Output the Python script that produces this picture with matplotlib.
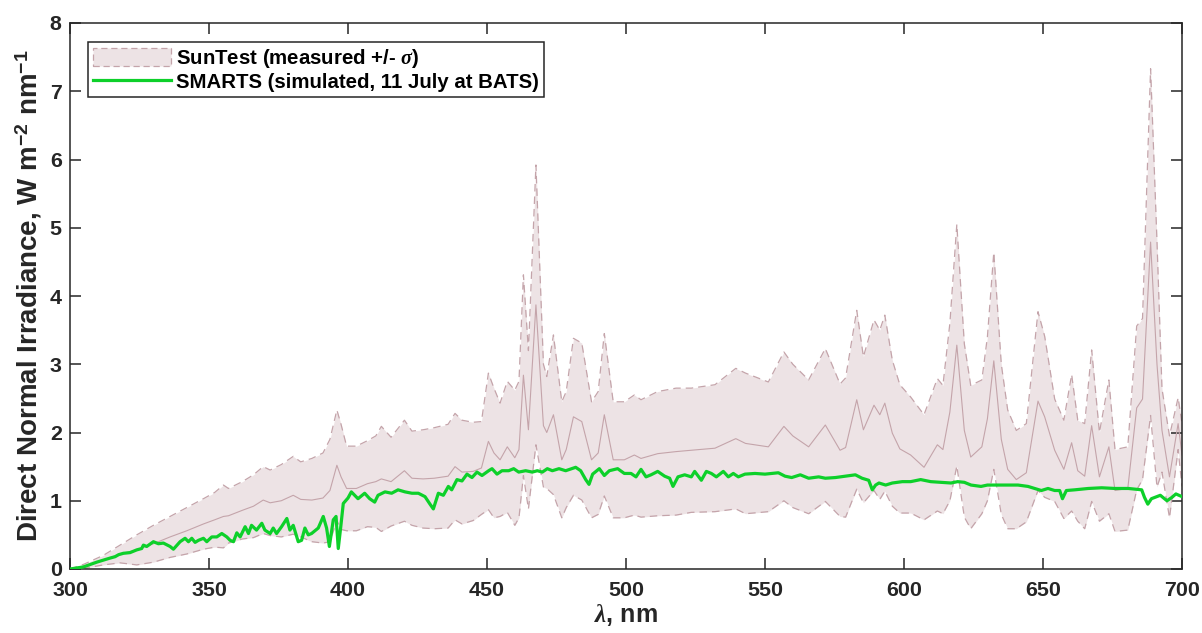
import matplotlib
matplotlib.use("Agg")
import matplotlib.pyplot as plt
from matplotlib.patches import Patch
from matplotlib.lines import Line2D
import numpy as np

# ---------------- data ----------------
wl_suntest = [300, 305, 312, 318, 324, 330, 336, 342, 348, 352, 355.2, 357, 362, 366, 369.5,
              372, 376, 380.3, 383, 387, 391, 393.5, 396, 397.5, 399.5, 403, 407, 410, 412,
              415.5, 420.3, 423, 427, 431, 436, 438.5, 441, 445, 448, 450.5, 452.5, 454.7,
              457.3, 460, 461.5, 463.1, 464.9, 467.6, 470.3, 471.5, 473.9, 476.9, 478.5,
              481.1, 484.1, 487.6, 490, 492.2, 495.4, 499.4, 503, 505.4, 511.4, 518, 523.5,
              532, 539.5, 543, 551.2, 556.8, 560, 565.7, 571.7, 577, 579, 583, 585.4, 589.2,
              591.3, 593.1, 595.8, 598.5, 602.4, 607.2, 612, 614, 616.5, 619, 621.7, 624,
              628, 630, 632.3, 635, 637.3, 640.4, 644, 648.2, 650.6, 654.2, 657.5, 660.3,
              662.5, 665, 667.5, 670.3, 673.7, 675.9, 680.5, 683.7, 685.8, 688.7, 691,
              692.8, 695.5, 698.6, 700]
suntest_mean = [0, 0.04, 0.13, 0.22, 0.28, 0.37, 0.47, 0.56, 0.66, 0.72, 0.77, 0.78, 0.86, 0.92, 1.01,
                0.97, 1.00, 1.08, 1.02, 1.01, 1.04, 1.15, 1.52, 1.35, 1.18, 1.18, 1.25, 1.28, 1.32,
                1.28, 1.44, 1.33, 1.32, 1.33, 1.36, 1.50, 1.42, 1.43, 1.48, 1.87, 1.70, 1.60,
                1.79, 1.63, 1.75, 2.84, 2.04, 3.87, 2.10, 2.00, 2.26, 1.60, 1.75,
                2.23, 2.16, 1.60, 1.70, 2.26, 1.60, 1.60, 1.67, 1.62, 1.69, 1.72, 1.74,
                1.77, 1.91, 1.84, 1.79, 2.09, 1.95, 1.79, 2.11, 1.74, 1.78, 2.48, 2.04, 2.40,
                2.26, 2.43, 1.99, 1.76, 1.67, 1.49, 1.82, 1.75, 2.30, 3.28, 2.03, 1.64,
                1.79, 2.20, 3.05, 1.90, 1.46, 1.31, 1.41, 2.46, 2.23, 1.74, 1.46, 1.85,
                1.44, 1.36, 2.10, 1.35, 1.79, 1.15, 1.18, 2.36, 2.49, 4.79, 3.00,
                2.03, 1.35, 2.13, 1.67]
suntest_sigma = [0, 0.03, 0.07, 0.13, 0.22, 0.27, 0.30, 0.34, 0.37, 0.40, 0.46, 0.40, 0.42, 0.46, 0.49,
                 0.48, 0.53, 0.57, 0.55, 0.61, 0.66, 0.75, 0.81, 0.77, 0.62, 0.62, 0.63, 0.67, 0.77,
                 0.65, 0.74, 0.69, 0.72, 0.74, 0.76, 0.78, 0.76, 0.72, 0.68, 1.00, 0.95, 0.83,
                 0.96, 0.99, 1.00, 1.47, 1.16, 2.05, 0.90, 0.82, 1.17, 0.85, 0.85,
                 1.15, 1.15, 0.85, 0.90, 1.19, 0.85, 0.85, 0.88, 0.86, 0.91, 0.93, 0.91,
                 0.93, 1.03, 1.03, 0.95, 1.09, 1.05, 0.98, 1.12, 0.97, 1.02, 1.31, 1.07, 1.25,
                 1.24, 1.29, 1.07, 0.94, 0.85, 0.77, 0.97, 0.94, 1.30, 1.77, 1.27, 1.05,
                 0.98, 1.20, 1.59, 1.10, 0.87, 0.72, 0.72, 1.31, 1.18, 0.75, 0.72, 1.00,
                 0.74, 0.77, 1.11, 0.65, 0.98, 0.60, 0.61, 1.20, 1.18, 2.54, 1.80,
                 0.61, 0.60, 0.38, 0.46]

wl_smarts = [300, 304.8, 309.6, 312, 314.4, 316.2, 317.5, 319.2, 321.6, 324, 325.8, 326.4, 327.6,
             330, 331.8, 333.6, 336, 337.2, 339.6, 341.4, 342.6, 343.8, 345, 346.2, 348, 349.2,
             351, 352.8, 354.6, 356.4, 357.6, 358.8, 360, 361.2, 363, 364.2, 365.3, 367.1, 369,
             370.1, 372, 373.1, 374.3, 376.1, 378, 379.1, 380.3, 382.1, 383.3, 384.5, 385.7,
             386.9, 389.3, 391.1, 392.3, 393.3, 394.7, 395.7, 396.5, 397.4, 398.3, 400, 401.2,
             403.6, 406, 407.8, 409.6, 410.8, 413.3, 415.7, 418, 420.5, 423, 425.3, 427.7,
             429.5, 430.7, 432.5, 434.3, 436.1, 437.3, 439.2, 441, 442.8, 444.6, 446.4, 448.2,
             450.6, 451.8, 453.6, 455.4, 457.8, 459.6, 461.4, 463.9, 466.3, 468.1, 469.9, 471.7,
             473.5, 475.9, 478.3, 481.9, 483.7, 485.5, 486.7, 488, 490.4, 492.2, 494, 497,
             499.4, 501.8, 503.6, 505.4, 507.2, 509, 511.4, 513.9, 515.7, 516.9, 518.7, 521.1,
             523.5, 524.7, 527.1, 528.9, 530.7, 532.5, 535, 536.8, 538.6, 540.4, 542.8, 546.4,
             550, 552.4, 554.8, 557.2, 559.6, 562.7, 565.7, 569.3, 571.7, 575.3, 578.9, 582.5,
             584.9, 587.3, 588.6, 589.8, 591, 593.4, 595.8, 599.4, 602.4, 606, 609.6, 613.3,
             616.9, 619.3, 621.7, 624.1, 627.7, 630, 633.7, 637.3, 641, 644.6, 647, 649.4,
             651.8, 654.2, 656, 657, 658.4, 661.4, 666.3, 671.1, 675.9, 680.7, 685.5, 686.5,
             687.7, 689, 692.2, 694.6, 696.4, 697.8, 700]
smarts_dni = [0, 0.03, 0.10, 0.13, 0.16, 0.18, 0.21, 0.23, 0.24, 0.28, 0.30, 0.35, 0.33,
              0.40, 0.37, 0.38, 0.33, 0.29, 0.40, 0.45, 0.40, 0.45, 0.39, 0.42, 0.45, 0.40,
              0.47, 0.47, 0.52, 0.47, 0.42, 0.40, 0.53, 0.47, 0.62, 0.52, 0.64, 0.57, 0.67,
              0.57, 0.52, 0.60, 0.52, 0.62, 0.74, 0.57, 0.64, 0.40, 0.42, 0.60, 0.50,
              0.52, 0.60, 0.77, 0.60, 0.33, 0.72, 0.77, 0.30, 0.62, 0.96, 1.04, 1.13,
              1.03, 1.11, 1.03, 0.98, 1.08, 1.13, 1.11, 1.16, 1.13, 1.11, 1.11, 1.06,
              0.95, 0.88, 1.11, 1.08, 1.21, 1.16, 1.31, 1.29, 1.39, 1.34, 1.42, 1.37,
              1.44, 1.47, 1.39, 1.44, 1.44, 1.47, 1.42, 1.44, 1.42, 1.44, 1.42, 1.47,
              1.44, 1.47, 1.44, 1.49, 1.44, 1.31, 1.24, 1.39, 1.47, 1.37, 1.44, 1.47,
              1.40, 1.40, 1.35, 1.46, 1.35, 1.38, 1.43, 1.36, 1.33, 1.21, 1.35, 1.38,
              1.35, 1.43, 1.30, 1.43, 1.40, 1.35, 1.43, 1.35, 1.40, 1.35, 1.39, 1.40,
              1.39, 1.40, 1.41, 1.36, 1.34, 1.38, 1.33, 1.35, 1.33, 1.34, 1.36, 1.38,
              1.33, 1.30, 1.16, 1.23, 1.26, 1.23, 1.26, 1.28, 1.28, 1.31, 1.28, 1.27,
              1.26, 1.28, 1.27, 1.23, 1.21, 1.23, 1.23, 1.23, 1.23, 1.21, 1.18, 1.15,
              1.18, 1.15, 1.15, 1.03, 1.15, 1.16, 1.18, 1.19, 1.18, 1.18, 1.16, 1.05,
              0.95, 1.03, 1.08, 1.00, 1.05, 1.10, 1.06]

x_ticks = [300, 350, 400, 450, 500, 550, 600, 650, 700]
y_ticks = [0, 1, 2, 3, 4, 5, 6, 7, 8]
label_suntest = r'SunTest (measured +/- $\sigma$)'
label_smarts = 'SMARTS (simulated, 11 July at BATS)'
x_label = r'$\lambda$, nm'
y_label = r'Direct Normal Irradiance, W m$^{\mathbf{-2}}$ nm$^{\mathbf{-1}}$'

# ---------------- style ----------------
plt.rcParams['font.family'] = ['Liberation Sans', 'DejaVu Sans']
plt.rcParams['font.weight'] = 'bold'
plt.rcParams['mathtext.fontset'] = 'custom'
plt.rcParams['mathtext.rm'] = 'Liberation Sans:bold'
plt.rcParams['mathtext.bf'] = 'Liberation Sans:bold'
plt.rcParams['mathtext.it'] = 'Liberation Serif:italic'

band_fill = '#EDE3E5'
band_edge = '#C4A4AA'
green = '#0DD02A'
axis_col = '#262626'

fig = plt.figure(figsize=(12.02, 6.33), dpi=100)
ax = fig.add_axes([70 / 1202, 1 - 569 / 633, (1182 - 70) / 1202, (569 - 23) / 633])

wl_s = np.array(wl_suntest)
m = np.array(suntest_mean)
s = np.array(suntest_sigma)
lower = m - s
upper = m + s

ax.fill_between(wl_s, lower, upper, color=band_fill, linewidth=0, zorder=1)
ax.plot(wl_s, upper, color=band_edge, lw=0.9, dashes=(6, 4), zorder=2)
ax.plot(wl_s, lower, color=band_edge, lw=0.9, dashes=(6, 4), zorder=2)
ax.plot(wl_s, m, color=band_edge, lw=0.8, zorder=2)
ax.plot(wl_smarts, smarts_dni, color=green, lw=2.3, zorder=3, solid_joinstyle='round')

ax.set_xlim(300, 700)
ax.set_ylim(0, 8)
ax.set_xticks(x_ticks)
ax.set_yticks(y_ticks)
ax.tick_params(direction='in', top=True, right=True, length=8, width=1.1,
               color=axis_col, labelsize=15.4, labelcolor=axis_col)
ax.tick_params(axis='x', pad=9)
ax.tick_params(axis='y', pad=6)
for lab in ax.get_xticklabels() + ax.get_yticklabels():
    lab.set_fontweight('bold')
for sp in ax.spines.values():
    sp.set_color(axis_col)
    sp.set_linewidth(1.1)

ax.set_xlabel(x_label, fontsize=18, fontweight='bold', color=axis_col, labelpad=1)
ax.set_ylabel(y_label, fontsize=20, fontweight='bold', color=axis_col, labelpad=4)

handles = [Patch(facecolor=band_fill, edgecolor=band_edge, linestyle=(0, (5, 3)), linewidth=0.9),
           Line2D([0], [0], color=green, lw=2.3)]
leg = ax.legend(handles, [label_suntest, label_smarts], loc='upper left',
                bbox_to_anchor=(18 / 1112, 1 - 19 / 546), frameon=True,
                prop={'weight': 'bold', 'size': 14.7},
                fancybox=False, edgecolor=axis_col, framealpha=1, handlelength=3.8,
                handleheight=1.0, borderpad=0.25, labelspacing=0.08, handletextpad=0.25,
                borderaxespad=0)
leg.get_frame().set_linewidth(1.1)
for t in leg.get_texts():
    t.set_color('black')

fig.savefig('out.png', dpi=100)
